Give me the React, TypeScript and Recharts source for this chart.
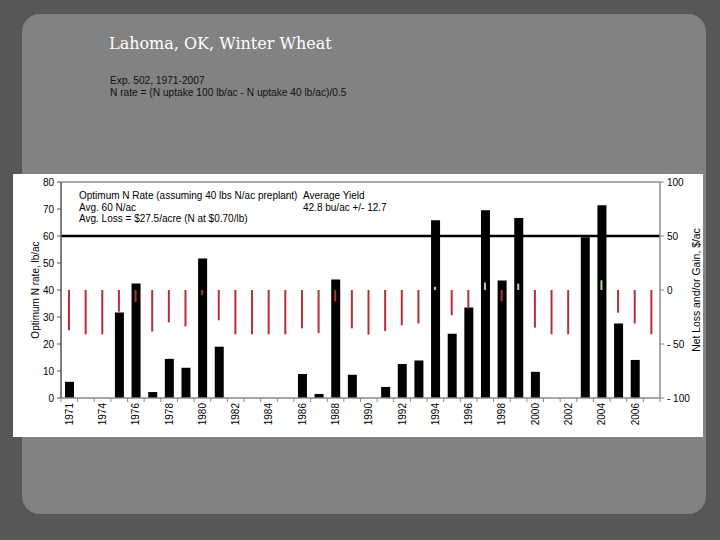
import React from 'react';
import { ComposedChart, Bar, XAxis, YAxis, ReferenceLine, Cell } from 'recharts';

const years = [
  '1971', '1972', '1974', '1975', '1976', '1977', '1978', '1979', '1980', '1981',
  '1982', '1983', '1984', '1985', '1986', '1987', '1988', '1989', '1990', '1991',
  '1992', '1993', '1994', '1995', '1996', '1997', '1998', '1999', '2000', '2001',
  '2002', '2003', '2004', '2005', '2006', '2007',
];

const optimumN = [
  6, 0, 0, 31.7, 42.4, 2.2, 14.5, 11.2, 51.7, 19,
  0, 0, 0, 0, 8.9, 1.5, 43.9, 8.6, 0, 4.1,
  12.6, 13.9, 65.8, 23.8, 33.5, 69.5, 43.5, 66.7, 9.7, 0,
  0, 59.5, 71.4, 27.6, 14.1, 0,
];

const netLossGain = [
  -37.3, -41, -41, -20, -11, -38.5, -30, -33.6, -4.6, -28,
  -41, -41, -41, -41, -35.5, -39.8, -10.5, -35.5, -41.3, -38,
  -32.7, -31, 3, -23.4, -17.3, 7, -10.5, 6, -34.8, -41,
  -41, 0, 9, -21, -31, -41,
];

const leftTicks = [0, 10, 20, 30, 40, 50, 60, 70, 80];
const rightTicks = [-100, -50, 0, 50, 100];
const avgRate = 60;

const data = years.map((year, i) => ({ year, nRate: optimumN[i], net: netLossGain[i] }));

const FONT = '"Liberation Sans", Arial, sans-serif';
const PLOT_W = 599;
const BAND = PLOT_W / years.length;

const XTick = (props: any) => {
  const { x, y, payload, index } = props;
  const half = BAND / 2;
  return (
    <g>
      <line x1={x - half} x2={x - half} y1={y} y2={y + 4} stroke="#888" strokeWidth={1} />
      {index === years.length - 1 && (
        <line x1={x + half} x2={x + half} y1={y} y2={y + 4} stroke="#888" strokeWidth={1} />
      )}
      {index % 2 === 0 && (
        <text
          transform={`translate(${x},${y + 5}) rotate(-90)`}
          textAnchor="end"
          dy="0.35em"
          fontSize={10}
          fontFamily={FONT}
          fill="#000"
        >
          {payload.value}
        </text>
      )}
    </g>
  );
};

const fmtRight = (v: number) => (v < 0 ? `- ${Math.abs(v)}` : `${v}`);

export default function App() {
  const textStyle: React.CSSProperties = {
    position: 'absolute',
    fontFamily: FONT,
    fontSize: 10,
    lineHeight: '11.7px',
    color: '#000',
    whiteSpace: 'nowrap',
  };
  return (
    <div
      style={{
        position: 'absolute',
        left: 0,
        top: 0,
        width: 720,
        height: 540,
        overflow: 'hidden',
        background: '#575757',
      }}
    >
      <div
        style={{
          position: 'absolute',
          left: 22,
          top: 14,
          width: 684,
          height: 500,
          background: '#828282',
          borderRadius: 18,
        }}
      />
      <div
        style={{
          position: 'absolute',
          left: 109,
          top: 36,
          fontFamily: '"DejaVu Serif", serif',
          fontSize: 16,
          lineHeight: '16px',
          color: '#fff',
          whiteSpace: 'nowrap',
        }}
      >
        Lahoma, OK, Winter Wheat
      </div>
      <div style={{ ...textStyle, left: 110, top: 75, fontSize: 10.2, lineHeight: '11.6px', color: '#111' }}>
        <div>Exp. 502, 1971-2007</div>
        <div>N rate = (N uptake 100 lb/ac - N uptake 40 lb/ac)/0.5</div>
      </div>
      <div
        style={{
          position: 'absolute',
          left: 13,
          top: 174,
          width: 690,
          height: 263,
          background: '#fff',
        }}
      />
      <div style={{ position: 'absolute', left: 0, top: 0 }}>
        <ComposedChart
          width={720}
          height={540}
          data={data}
          margin={{ top: 182, right: 20, bottom: 102, left: 21 }}
        >
          <XAxis
            xAxisId="main"
            dataKey="year"
            interval={0}
            tickSize={0}
            tickMargin={0}
            tickLine={false}
            tick={<XTick />}
            height={40}
            axisLine={{ stroke: '#888', strokeWidth: 1.5 }}
          />
          <XAxis xAxisId="x2" dataKey="year" hide />
          <YAxis
            yAxisId="left"
            domain={[0, 80]}
            ticks={leftTicks}
            width={40}
            tickSize={4}
            tickMargin={3}
            interval={0}
            axisLine={{ stroke: '#555', strokeWidth: 1.5 }}
            tickLine={{ stroke: '#555' }}
            tick={{ fontSize: 10, fontFamily: FONT, fill: '#000' }}
          />
          <YAxis
            yAxisId="right"
            orientation="right"
            domain={[-100, 100]}
            ticks={rightTicks}
            width={40}
            tickSize={4}
            tickMargin={3}
            interval={0}
            tickFormatter={fmtRight}
            axisLine={{ stroke: '#8c8c8c', strokeWidth: 1.5 }}
            tickLine={{ stroke: '#8c8c8c' }}
            tick={{ fontSize: 10, fontFamily: FONT, fill: '#000' }}
          />
          <ReferenceLine xAxisId="main" yAxisId="left" y={80} stroke="#8c8c8c" strokeWidth={1.5} />
          <ReferenceLine xAxisId="main" yAxisId="left" y={avgRate} stroke="#000" strokeWidth={2.5} />
          <Bar
            xAxisId="main"
            yAxisId="left"
            dataKey="nRate"
            fill="#000"
            barSize={9}
            isAnimationActive={false}
          />
          <Bar
            xAxisId="x2"
            yAxisId="right"
            dataKey="net"
            barSize={2}
            isAnimationActive={false}
          >
            {data.map((d, i) => (
              <Cell key={i} fill={d.net >= 0 ? '#b5d98c' : '#b3303a'} />
            ))}
          </Bar>
        </ComposedChart>
      </div>
      <div style={{ ...textStyle, left: 79, top: 190 }}>
        <div>Optimum N Rate (assuming 40 lbs N/ac preplant)</div>
        <div>Avg. 60 N/ac</div>
        <div>Avg. Loss = $27.5/acre (N at $0.70/lb)</div>
      </div>
      <div style={{ ...textStyle, left: 303, top: 190 }}>
        <div>Average Yield</div>
        <div>42.8 bu/ac +/- 12.7</div>
      </div>
      <div
        style={{
          ...textStyle,
          left: 36,
          top: 290,
          transform: 'translate(-50%, -50%) rotate(-90deg)',
        }}
      >
        Optimum N rate, lb/ac
      </div>
      <div
        style={{
          ...textStyle,
          left: 697,
          top: 290,
          fontSize: 10.4,
          transform: 'translate(-50%, -50%) rotate(-90deg)',
        }}
      >
        Net Loss and/or Gain, $/ac
      </div>
    </div>
  );
}
